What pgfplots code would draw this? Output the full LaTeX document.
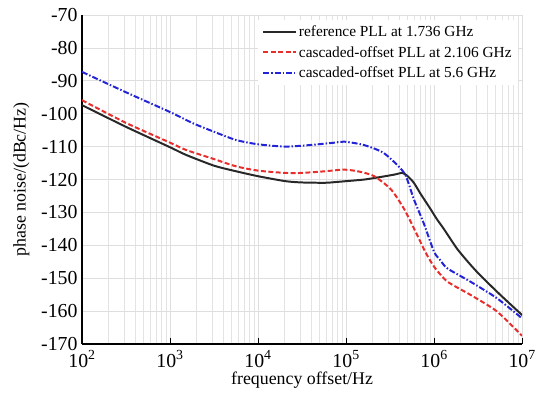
\documentclass[border=0pt]{standalone}
\usepackage{fontspec}
\setmainfont{Liberation Serif}
\usepackage{pgfplots}
\pgfplotsset{compat=1.18}

\definecolor{refline}{RGB}{40,40,40}
\definecolor{redline}{RGB}{232,45,45}
\definecolor{blueline}{RGB}{35,35,215}
\definecolor{gridgray}{RGB}{222,222,222}

\begin{document}
\begin{tikzpicture}
\begin{axis}[
  name=main,
  scale only axis,
  width=444pt, height=332pt,
  xmode=log,
  xmin=1e2, xmax=1e7,
  ymin=-170, ymax=-70,
  axis x line*=bottom,
  axis y line*=left,
  axis line style={line width=1.4pt, -},
  xtick={1e2,1e3,1e4,1e5,1e6,1e7},
  xticklabels={10\textsuperscript{2},10\textsuperscript{3},10\textsuperscript{4},10\textsuperscript{5},10\textsuperscript{6},10\textsuperscript{7}},
  ytick={-170,-160,-150,-140,-130,-120,-110,-100,-90,-80,-70},
  yticklabels={-170,-160,-150,-140,-130,-120,-110,-100,-90,-80,-70},
  xtick align=inside,
  major tick length=6pt,
  minor tick length=0pt,
  ytick style={draw=none},
  xtick style={line width=0.8pt, black},
  xmajorgrids, xminorgrids, ymajorgrids,
  grid style={gridgray, line width=0.7pt},
  minor grid style={gridgray!85, line width=0.6pt},
  tick label style={font=\fontsize{20}{22}\selectfont},
  yticklabel style={xshift=-1pt},
  xticklabel style={yshift=-3pt},
  xlabel={frequency offset/Hz},
  ylabel={phase noise/(dBc/Hz)},
  label style={font=\fontsize{18}{20}\selectfont},
  xlabel style={yshift=2pt},
  ylabel style={yshift=5pt},
  legend style={at={(0.99,0.985)}, anchor=north east, draw=none, fill=white,
                font=\fontsize{15.5}{17}\selectfont, row sep=4pt,
                inner xsep=4pt, inner ysep=4pt},
  legend cell align=left,
  legend image code/.code={\draw[#1] (0pt,0pt) -- (33pt,0pt);},
]
\addplot[refline, line width=2pt, solid, smooth, tension=0.4] coordinates {
  (1e2,-97.4) (3.162e2,-104.0) (1e3,-110.2) (1.514e3,-112.5) (3.162e3,-115.8)
  (5.623e3,-117.5) (1e4,-119.0) (2.04e4,-120.5) (3.162e4,-120.9) (5.754e4,-121.0)
  (7.413e4,-120.8) (1e5,-120.5) (1.622e5,-120.0) (2.512e5,-119.2) (3.548e5,-118.5)
  (4.365e5,-118.0) (5.012e5,-119.0) (5.888e5,-121.0) (7.079e5,-124.5) (9.12e5,-129.0)
  (1.072e6,-132.0) (1.288e6,-135.0) (1.82e6,-141.0) (2.512e6,-145.5) (3.311e6,-149.0)
  (5.623e6,-155.0) (1e7,-161.2)
};
\addlegendentry{reference PLL at 1.736 GHz}
\addplot[redline, line width=2pt, dash pattern=on 5pt off 2.5pt, smooth, tension=0.4] coordinates {
  (1e2,-95.9) (3.162e2,-102.8) (1e3,-108.8) (1.514e3,-111.0) (3.162e3,-113.8)
  (5.623e3,-116.0) (1e4,-117.3) (2.04e4,-118.0) (3.162e4,-118.0) (5.754e4,-117.5)
  (9.55e4,-117.0) (1.413e5,-117.6) (2.089e5,-119.0) (3.236e5,-123.0) (4.571e5,-129.0)
  (6.457e5,-137.0) (7.943e5,-142.0) (1e6,-146.5) (1.413e6,-151.0) (2.57e6,-155.0)
  (5.129e6,-160.0) (1e7,-167.5)
};
\addlegendentry{cascaded-offset PLL at 2.106 GHz}
\addplot[blueline, line width=2pt, dash pattern=on 6pt off 2pt on 1.5pt off 2pt, smooth, tension=0.4] coordinates {
  (1e2,-87.3) (3.162e2,-93.5) (1e3,-99.5) (1.82e3,-102.9) (3.162e3,-105.5)
  (5.623e3,-108.0) (1e4,-109.3) (2.04e4,-110.0) (3.981e4,-109.5) (7.413e4,-108.8)
  (9.55e4,-108.5) (1.585e5,-109.5) (2.692e5,-112.0) (4.571e5,-118.0) (5.888e5,-126.0)
  (7.674e5,-133.5) (1e6,-142.0) (1.175e6,-144.5) (1.413e6,-147.0) (2.57e6,-151.0)
  (5.129e6,-156.0) (1e7,-162.2)
};
\addlegendentry{cascaded-offset PLL at 5.6 GHz}
\end{axis}
% page box as in the reference: blank margin left and top
\pgfresetboundingbox
\path ([xshift=-10pt,yshift=-7pt]main.outer south west);
\path ([yshift=5pt]main.outer north);
\path ([xshift=15pt]main.south east);
\end{tikzpicture}
\end{document}
